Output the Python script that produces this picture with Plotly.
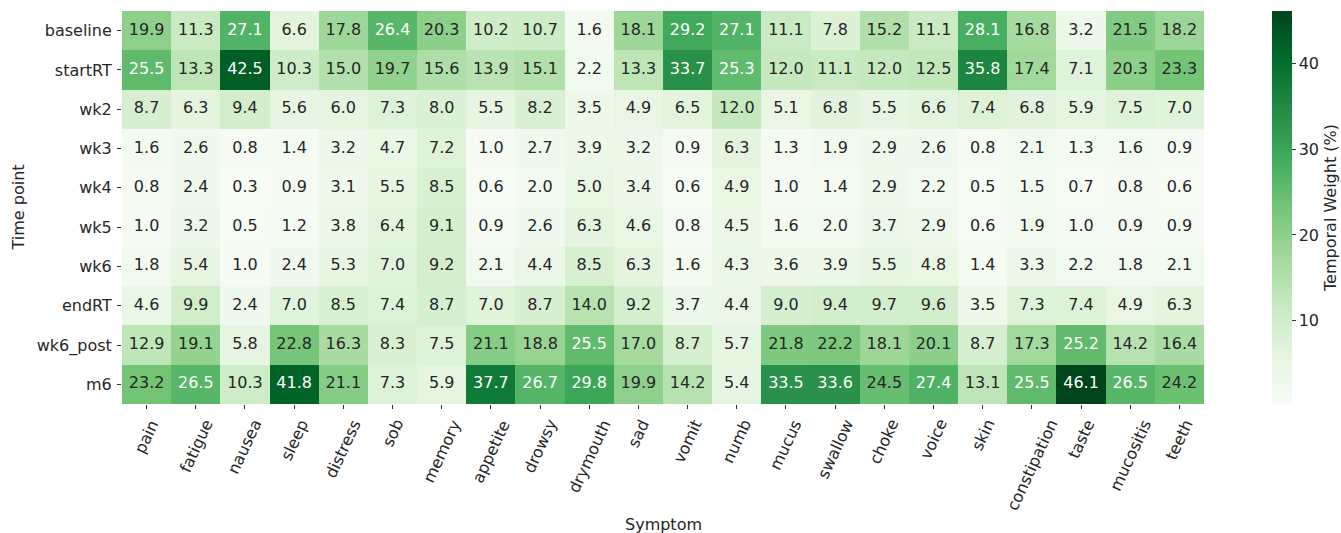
import plotly.graph_objects as go

# Symptom categories (columns) and time points (rows)
symptoms = ["pain", "fatigue", "nausea", "sleep", "distress", "sob", "memory",
            "appetite", "drowsy", "drymouth", "sad", "vomit", "numb", "mucus",
            "swallow", "choke", "voice", "skin", "constipation", "taste",
            "mucositis", "teeth"]
time_points = ["baseline", "startRT", "wk2", "wk3", "wk4", "wk5", "wk6",
               "endRT", "wk6_post", "m6"]

# Temporal weight (%) per time point, one list per row
baseline = [19.9, 11.3, 27.1, 6.6, 17.8, 26.4, 20.3, 10.2, 10.7, 1.6, 18.1,
            29.2, 27.1, 11.1, 7.8, 15.2, 11.1, 28.1, 16.8, 3.2, 21.5, 18.2]
startRT = [25.5, 13.3, 42.5, 10.3, 15.0, 19.7, 15.6, 13.9, 15.1, 2.2, 13.3,
           33.7, 25.3, 12.0, 11.1, 12.0, 12.5, 35.8, 17.4, 7.1, 20.3, 23.3]
wk2 = [8.7, 6.3, 9.4, 5.6, 6.0, 7.3, 8.0, 5.5, 8.2, 3.5, 4.9,
       6.5, 12.0, 5.1, 6.8, 5.5, 6.6, 7.4, 6.8, 5.9, 7.5, 7.0]
wk3 = [1.6, 2.6, 0.8, 1.4, 3.2, 4.7, 7.2, 1.0, 2.7, 3.9, 3.2,
       0.9, 6.3, 1.3, 1.9, 2.9, 2.6, 0.8, 2.1, 1.3, 1.6, 0.9]
wk4 = [0.8, 2.4, 0.3, 0.9, 3.1, 5.5, 8.5, 0.6, 2.0, 5.0, 3.4,
       0.6, 4.9, 1.0, 1.4, 2.9, 2.2, 0.5, 1.5, 0.7, 0.8, 0.6]
wk5 = [1.0, 3.2, 0.5, 1.2, 3.8, 6.4, 9.1, 0.9, 2.6, 6.3, 4.6,
       0.8, 4.5, 1.6, 2.0, 3.7, 2.9, 0.6, 1.9, 1.0, 0.9, 0.9]
wk6 = [1.8, 5.4, 1.0, 2.4, 5.3, 7.0, 9.2, 2.1, 4.4, 8.5, 6.3,
       1.6, 4.3, 3.6, 3.9, 5.5, 4.8, 1.4, 3.3, 2.2, 1.8, 2.1]
endRT = [4.6, 9.9, 2.4, 7.0, 8.5, 7.4, 8.7, 7.0, 8.7, 14.0, 9.2,
         3.7, 4.4, 9.0, 9.4, 9.7, 9.6, 3.5, 7.3, 7.4, 4.9, 6.3]
wk6_post = [12.9, 19.1, 5.8, 22.8, 16.3, 8.3, 7.5, 21.1, 18.8, 25.5, 17.0,
            8.7, 5.7, 21.8, 22.2, 18.1, 20.1, 8.7, 17.3, 25.2, 14.2, 16.4]
m6 = [23.2, 26.5, 10.3, 41.8, 21.1, 7.3, 5.9, 37.7, 26.7, 29.8, 19.9,
      14.2, 5.4, 33.5, 33.6, 24.5, 27.4, 13.1, 25.5, 46.1, 26.5, 24.2]

colorbar_ticks = [10, 20, 30, 40]

z = [baseline, startRT, wk2, wk3, wk4, wk5, wk6, endRT, wk6_post, m6]

# ColorBrewer "Greens" (9 classes), light to dark
greens_hex = ["#f7fcf5", "#e5f5e0", "#c7e9c0", "#a1d99b", "#74c476",
              "#41ab5d", "#238b45", "#006d2c", "#00441b"]
greens_rgb = [tuple(int(h[i:i + 2], 16) for i in (1, 3, 5)) for h in greens_hex]
n = len(greens_hex) - 1
colorscale = [[i / n, greens_hex[i]] for i in range(len(greens_hex))]

zmin = min(min(r) for r in z)
zmax = max(max(r) for r in z)


def cell_rgb(v):
    t = (v - zmin) / (zmax - zmin) * n
    i = min(int(t), n - 1)
    f = t - i
    a, b = greens_rgb[i], greens_rgb[i + 1]
    return tuple(a[k] + (b[k] - a[k]) * f for k in range(3))


def luminance(rgb):
    def lin(c):
        c = c / 255.0
        return c / 12.92 if c <= 0.03928 else ((c + 0.055) / 1.055) ** 2.4
    r, g, b = (lin(c) for c in rgb)
    return 0.2126 * r + 0.7152 * g + 0.0722 * b


# Annotation grid: dark text on light cells, white text on dark cells
tx, ty, tt, tc = [], [], [], []
for r_name, row in zip(time_points, z):
    for c_name, v in zip(symptoms, row):
        tx.append(c_name)
        ty.append(r_name)
        tt.append(f"{v:.1f}")
        tc.append("#262626" if luminance(cell_rgb(v)) > 0.408 else "white")

FONT = "DejaVu Sans"

fig = go.Figure()
fig.add_trace(go.Heatmap(
    z=z, x=symptoms, y=time_points,
    colorscale=colorscale, zmin=zmin, zmax=zmax,
    xgap=0, ygap=0, hoverinfo="skip",
    colorbar=dict(
        title=dict(text="Temporal Weight (%)", side="right",
                   font=dict(size=16, family=FONT, color="#262626")),
        thickness=20, len=1, lenmode="fraction",
        x=1.0628, xanchor="left", xpad=0,
        y=0.5, yanchor="middle", ypad=0,
        outlinewidth=0,
        tickvals=colorbar_ticks, ticks="outside", ticklen=4,
        tickcolor="#333333", tickwidth=1,
        tickfont=dict(size=16, family=FONT, color="#262626"),
    ),
))
fig.add_trace(go.Scatter(
    x=tx, y=ty, text=tt, mode="text",
    textfont=dict(size=16, family=FONT, color=tc),
    hoverinfo="skip", showlegend=False, cliponaxis=False,
))

# Rotated symptom labels under each column
annotations = [
    dict(x=s, y=0, xref="x", yref="paper", text=s, showarrow=False,
         textangle=-65, xanchor="center", yanchor="top", yshift=-10,
         font=dict(size=16, family=FONT, color="#262626"))
    for s in symptoms
]
annotations.append(dict(
    x=0.5, y=0, xref="paper", yref="paper", text="Symptom", showarrow=False,
    xanchor="center", yanchor="middle", yshift=-120,
    font=dict(size=16, family=FONT, color="#262626")))
annotations.append(dict(
    x=0, y=0.5, xref="paper", yref="paper", text="Time point", showarrow=False,
    textangle=-90, xanchor="center", yanchor="middle", xshift=-104,
    font=dict(size=16, family=FONT, color="#262626")))

fig.update_layout(
    width=1341, height=533,
    margin=dict(l=122, r=137, t=11, b=129, autoexpand=False),
    paper_bgcolor="white", plot_bgcolor="white",
    font=dict(family=FONT, size=16, color="#262626"),
    annotations=annotations,
    showlegend=False,
)
fig.update_xaxes(
    type="category", range=[-0.5, len(symptoms) - 0.5], autorange=False,
    showgrid=False, zeroline=False, showline=False,
    showticklabels=False, ticks="outside", ticklen=4, tickcolor="#333333",
    tickwidth=1, automargin=False,
)
fig.update_yaxes(
    type="category", range=[len(time_points) - 0.5, -0.5], autorange=False,
    showgrid=False, zeroline=False,
    showline=False, ticks="outside", ticklen=4, tickcolor="#333333",
    tickwidth=1, tickfont=dict(size=16, family=FONT, color="#262626"),
    ticklabelstandoff=2, automargin=False,
)

fig.write_html("out.html")
